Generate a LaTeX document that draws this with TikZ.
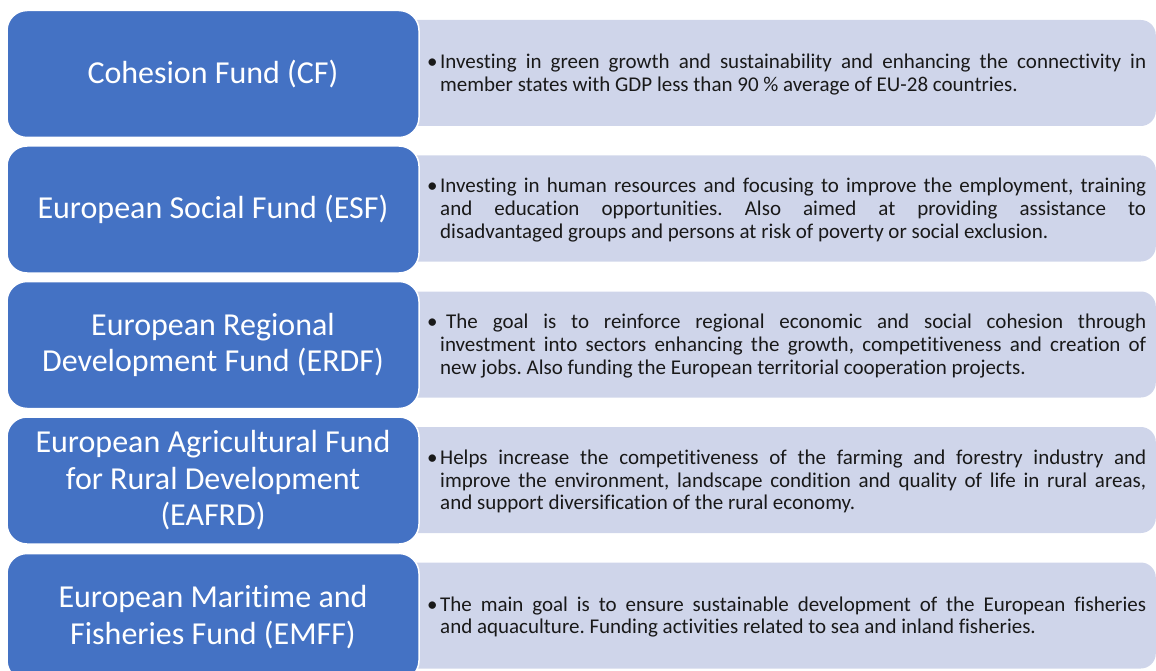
\documentclass[tikz,border=0pt]{standalone}
\usepackage{fontspec}
\setmainfont{Carlito}[Ligatures={NoCommon}]
\usetikzlibrary{positioning}
\definecolor{fundblue}{HTML}{4472C4}
\definecolor{infolilac}{HTML}{CFD5EA}
\newcommand{\fundpoint}[2][13pt]{\hangindent=13pt\hangafter=1\relax\noindent\makebox[#1][l]{\textbullet}#2\par}

\begin{document}
\hyphenpenalty=10000
\tolerance=10000
\frenchspacing
\begin{tikzpicture}[x=1pt, y=-1pt,
    fund/.style={draw=white, line width=1.5pt, rectangle, rounded corners=20pt, fill=fundblue, text=white, minimum width=412pt, minimum height=127pt, align=center, font=\fontsize{32}{36.5}\selectfont},
    info/.style={rectangle, rounded corners=15pt, fill=infolilac, minimum width=760pt, minimum height=106pt, anchor=east},
    desc/.style={text width=719pt, align=justify, inner sep=0pt, anchor=west, text=black!90, font=\fontsize{21}{22.8}\selectfont}
]
\useasboundingbox (0,0) rectangle (1156,671);
\clip (0,0) rectangle (1156,671);

% Backgrounds
\node[info] (cfInfo) at (1156,73) {};
\node[info] (esfInfo) at (1156,208.5) {};
\node[info] (erdfInfo) at (1156,344.5) {};
\node[info] (eafrdInfo) at (1156,480) {};
\node[info] (emffInfo) at (1156,615.5) {};

% Funds
\node[fund] (cf) at (213,74) {Cohesion Fund (CF)};
\node[fund] (esf) at (213,209.5) {European Social Fund (ESF)};
\node[fund] (erdf) at (213,345) {European Regional\\Development Fund (ERDF)};
\node[fund] (eafrd) at (213,480.5) {European Agricultural Fund\\for Rural Development\\(EAFRD)};
\node[fund] (emff) at (213,617) {European Maritime and\\Fisheries Fund (EMFF)};

% Descriptions
\node[desc] (cfText) at (427,74.5) {\fundpoint{Investing in green growth and sustainability and enhancing the connectivity in\linebreak member states with GDP less than 90 \% average of EU-28 countries.}};
\node[desc] (esfText) at (427,210) {\fundpoint{Investing in human resources and focusing to improve the employment, training\linebreak and education opportunities. Also aimed at providing assistance to\linebreak disadvantaged groups and persons at risk of poverty or social exclusion.}};
\node[desc] (erdfText) at (427,346) {\fundpoint[19pt]{The goal is to reinforce regional economic and social cohesion through\linebreak investment into sectors enhancing the growth, competitiveness and creation of\linebreak new jobs. Also funding the European territorial cooperation projects.}};
\node[desc] (eafrdText) at (427,481.5) {\fundpoint{Helps increase the competitiveness of the farming and forestry industry and\linebreak improve the environment, landscape condition and quality of life in rural areas,\linebreak and support diversification of the rural economy.}};
\node[desc] (emffText) at (427,617) {\fundpoint{The main goal is to ensure sustainable development of the European fisheries\linebreak and aquaculture. Funding activities related to sea and inland fisheries.}};

\end{tikzpicture}
\end{document}
